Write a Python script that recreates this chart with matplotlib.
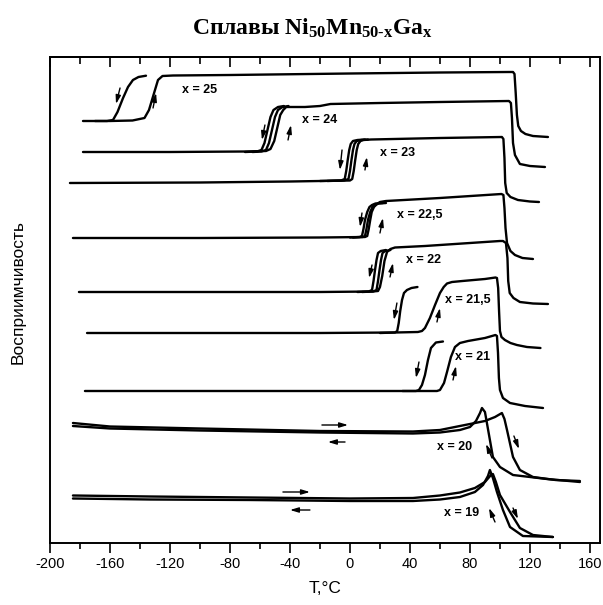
import matplotlib
matplotlib.use("Agg")
import matplotlib.pyplot as plt
from matplotlib.ticker import MultipleLocator

plt.rcParams['font.family'] = ['Liberation Sans', 'DejaVu Sans']
plt.rcParams['axes.unicode_minus'] = False
plt.rcParams['mathtext.fontset'] = 'custom'
plt.rcParams['mathtext.rm'] = 'Liberation Serif:bold'
plt.rcParams['mathtext.it'] = 'Liberation Serif:bold'
plt.rcParams['mathtext.bf'] = 'Liberation Serif:bold'

# --- кривые восприимчивости (T в °C, сигнал в усл. ед.) ---
# x = 25
x25_heat_T = [-178, -160, -145, -137, -134, -132, -130, -128, -125, -118, -80, 0, 60, 106, 108.7, 109.7, 110.5, 111.3, 112.2, 114, 117, 122, 132]
x25_heat_v = [422, 422, 422.5, 425, 433, 443, 453, 463, 467, 467.5, 468, 469.5, 470.5, 471, 471, 469, 450, 428, 417, 412, 409, 407, 406]
x25_cool_T = [-170, -162, -158, -155, -151.3, -148, -144.7, -141, -136]
x25_cool_v = [422, 422, 423, 431, 445, 456, 463, 466, 467.3]

# x = 24
x24_heat_T = [-178, -120, -70, -56, -53, -50.5, -48.5, -46.5, -44.5, -42.5, -30, -20, -13, 20, 60, 106, 107.3, 108, 108.7, 110, 113.3, 120, 130]
x24_heat_v = [391, 391, 391.5, 392, 394, 402, 415, 428, 433, 436, 436, 437, 439, 440, 441, 442, 440, 425, 400, 388, 379, 377, 376]
x24_mid_T = [-65, -59, -56, -54, -52, -50, -48, -45, -41]
x24_mid_v = [391, 391.5, 393, 400, 413, 426, 433, 436, 437]
x24_cool_T = [-70, -62, -59, -57, -55, -53, -51, -48, -44]
x24_cool_v = [391, 391.5, 393, 400, 413, 426, 433, 436, 437]

# x = 23
x23_heat_T = [-186.7, -100, -40, 0, 1.5, 2.5, 3.5, 4.5, 5.5, 7, 9, 14, 60, 101.3, 102.3, 103, 103.5, 104.5, 107, 112, 120, 126]
x23_heat_v = [360, 360.5, 361.5, 362.5, 364, 372, 383, 393, 399, 402, 403, 403.5, 405, 406, 404, 385, 360, 350, 346, 343, 341.5, 341]
x23_mid_T = [-15, -4, -1, 0, 1, 2, 3, 4.5, 7.5, 12]
x23_mid_v = [362, 362.5, 364, 372, 383, 393, 399, 402, 403, 403.5]
x23_cool_T = [-20, -6, -3.5, -2.5, -1.5, -0.5, 0.5, 2, 5, 10]
x23_cool_v = [362, 362.5, 364, 372, 383, 393, 399, 402, 403, 403.5]

# x = 22,5
x225_heat_T = [-184.7, -100, -20, 10, 11.5, 12.5, 13.5, 14.5, 16, 18, 20, 24, 60, 101, 102.3, 103, 103.7, 104.7, 107, 110, 115, 122]
x225_heat_v = [305, 305, 305.5, 306, 307, 314, 323, 331, 336, 339, 341, 342, 345, 349, 348, 335, 315, 300, 292, 288, 285, 284]
x225_mid_T = [2, 8.5, 10, 11, 12, 13.5, 15, 16.7, 19, 24]
x225_mid_v = [305.5, 306, 307, 314, 323, 331, 336, 338, 339.5, 340]
x225_cool_T = [0, 6.5, 8, 9, 10, 11.5, 13, 14.7, 17, 22]
x225_cool_v = [305.5, 306, 307, 314, 323, 331, 336, 338, 339.5, 340]

# x = 22
x22_heat_T = [-180.7, -100, -20, 15, 18.7, 20, 21.5, 23, 24.7, 27, 30, 50, 100, 102, 104, 105, 105.5, 106.5, 109, 113.3, 122, 132]
x22_heat_v = [251, 251, 251, 251.5, 252, 256, 267, 282, 291, 294, 295.5, 297, 302, 302, 300, 285, 262, 250, 245, 241, 239.5, 239]
x22_mid_T = [8, 15.5, 17.7, 18.7, 19.7, 20.7, 21.7, 23.5, 27]
x22_mid_v = [251, 251.5, 253, 262, 273, 283, 290, 292, 293]
x22_cool_T = [5, 12.5, 14.7, 15.7, 16.7, 17.7, 18.7, 20.5, 24]
x22_cool_v = [251, 251.5, 253, 262, 273, 283, 290, 292, 293]

# x = 21,5
x215_heat_T = [-175.3, -100, -20, 30, 45.3, 48, 50, 53.3, 56.7, 60, 62.5, 64.7, 68, 75, 90, 97, 98, 98.8, 99.4, 100, 101, 103.3, 107, 111.3, 118, 127]
x215_heat_v = [210, 210, 210, 210.5, 211, 212, 215, 225, 238, 250, 256, 259.5, 261, 262, 264, 265.5, 265, 255, 232, 212, 206, 203, 200, 198, 196, 195]
x215_cool_T = [20, 30, 31.5, 32.5, 33.5, 34.7, 36, 38, 41, 45]
x215_cool_v = [210, 210.5, 212, 220, 232, 243, 250, 253, 255, 256]

# x = 21
x21_heat_T = [-176.7, -100, -20, 40, 58, 60, 62.7, 64.7, 67.3, 70, 73.3, 78.7, 90, 97, 98, 98.7, 99.3, 100, 102, 106.7, 116.7, 128.7]
x21_heat_v = [152, 152, 152, 152, 152, 153, 160, 171, 186, 196, 200, 202, 205, 208, 207, 190, 165, 153, 145, 140, 137, 135]
x21_cool_T = [35, 44, 46, 48, 50, 52, 54, 57.3, 62]
x21_cool_v = [152, 152, 153, 158, 168, 183, 195, 200.5, 201.5]

# x = 20
x20_heat_T = [-184.7, -160, -100, -20, 42, 60, 73.3, 80, 90, 96.7, 101.3, 103, 104.7, 108.7, 113.3, 122, 137, 153.3]
x20_heat_v = [120, 116.5, 114.5, 112, 111.5, 113, 117, 119, 122, 126, 130, 124, 113, 86, 73, 66, 63, 62]
x20_cool_T = [-184.7, -160, -100, -20, 42, 60, 73.3, 80, 84, 86.7, 88, 90, 91.3, 95.3, 100, 108.7, 131.3, 153.3]
x20_cool_v = [117, 114.5, 112.5, 110.5, 109.5, 110.5, 113, 116, 122, 130, 135, 131, 120, 86, 76, 68, 64, 61]

# x = 19
x19_heat_T = [-184.7, -133, -66.7, 0, 42, 60, 73.3, 83.3, 90, 94, 95.3, 97.3, 100, 106.7, 113.3, 122, 135.3]
x19_heat_v = [47.5, 46.5, 45.5, 44.5, 45, 47.5, 50.5, 55, 61, 68, 69, 61, 48, 31, 15, 8, 6]
x19_cool_T = [-184.7, -133, -66.7, 0, 42, 60, 73.3, 83.3, 88.7, 92, 93.3, 95.3, 98, 102, 106.7, 115.3, 135.3]
x19_cool_v = [44.5, 43.5, 43, 42, 42, 43.5, 46, 51, 58, 67, 73, 65, 51, 33, 16, 7, 6]

# подписи составов
label_text = ["x = 25", "x = 24", "x = 23", "x = 22,5", "x = 22", "x = 21,5", "x = 21", "x = 20", "x = 19"]
label_T = [-100, -20, 32, 46.7, 48.7, 78.7, 82, 70, 74.7]
label_v = [453, 423, 390, 328, 283, 243, 186, 96, 30]

# стрелки направления хода температуры: (T начала, v начала, T конца, v конца)
arrows = [
    (-153.3, 455, -156, 439), (-131.3, 435, -129.3, 450),
    (-56.7, 418, -58.7, 403), (-41.3, 403, -39.3, 418),
    (-5.3, 393, -6.7, 373), (10, 373, 11.3, 386),
    (8, 330, 6.7, 316), (20, 310, 22, 325),
    (14.7, 278, 12.7, 265), (26.7, 266, 28.7, 280),
    (31.3, 240, 29.3, 223), (58, 221, 60, 235),
    (46, 181, 44, 165), (68.7, 163, 70.7, 177),
    (-18.7, 118, -1.3, 118), (-3.3, 101, -14.7, 101),
    (94.7, 85, 90.7, 99), (109.3, 107, 112.7, 94),
    (-44.7, 51, -26.7, 51), (-26.7, 33, -40, 33),
    (96.7, 21, 92.7, 35), (108.7, 35, 112, 24),
]

curves = [
    (x25_heat_T, x25_heat_v), (x25_cool_T, x25_cool_v),
    (x24_heat_T, x24_heat_v), (x24_mid_T, x24_mid_v), (x24_cool_T, x24_cool_v),
    (x23_heat_T, x23_heat_v), (x23_mid_T, x23_mid_v), (x23_cool_T, x23_cool_v),
    (x225_heat_T, x225_heat_v), (x225_mid_T, x225_mid_v), (x225_cool_T, x225_cool_v),
    (x22_heat_T, x22_heat_v), (x22_mid_T, x22_mid_v), (x22_cool_T, x22_cool_v),
    (x215_heat_T, x215_heat_v), (x215_cool_T, x215_cool_v),
    (x21_heat_T, x21_heat_v), (x21_cool_T, x21_cool_v),
    (x20_heat_T, x20_heat_v), (x20_cool_T, x20_cool_v),
    (x19_heat_T, x19_heat_v), (x19_cool_T, x19_cool_v),
]

fig = plt.figure(figsize=(6.03, 6.05), dpi=100)
ax = fig.add_axes([50 / 603, 62 / 605, 550 / 603, 486 / 605])

for T, v in curves:
    ax.plot(T, v, color='black', lw=1.7, solid_joinstyle='round', solid_capstyle='round')

for t, T, v in zip(label_text, label_T, label_v):
    ax.text(T, v, t, fontsize=9, fontweight='bold', ha='center', va='center')

for t0, v0, t1, v1 in arrows:
    ax.annotate('', xy=(t1, v1), xytext=(t0, v0),
                arrowprops=dict(arrowstyle='-|>,head_length=0.5,head_width=0.15',
                                color='black', lw=1.0, shrinkA=0, shrinkB=0))

ax.set_xlim(-200, 166.7)
ax.set_ylim(0, 486)
ax.set_yticks([])
ax.xaxis.set_major_locator(MultipleLocator(40))
ax.xaxis.set_minor_locator(MultipleLocator(20))
ax.tick_params(axis='x', which='major', direction='out', length=7, width=1.2, labelsize=10.5, pad=3)
ax.tick_params(axis='x', which='minor', direction='out', length=4, width=1.2)
for s in ax.spines.values():
    s.set_linewidth(1.4)

top = ax.secondary_xaxis('top')
top.xaxis.set_major_locator(MultipleLocator(40))
top.xaxis.set_minor_locator(MultipleLocator(20))
top.tick_params(axis='x', which='major', direction='in', length=7, width=1.2, labeltop=False)
top.tick_params(axis='x', which='minor', direction='in', length=5, width=1.2)
top.spines['top'].set_linewidth(1.4)

ax.set_xlabel('T,°C', fontsize=12.5, labelpad=7)
fig.text(18 / 603, 1 - 292 / 605, 'Восприимчивость', rotation=90, fontsize=12.5,
         ha='center', va='center')
fig.text(312 / 603, 1 - 28 / 605, r'Сплавы Ni$_{50}$Mn$_{\text{50-x}}$Ga$_{\text{x}}$',
         fontsize=17, fontweight='bold', family='Liberation Serif', ha='center', va='center')

fig.savefig('out.png', dpi=100)
